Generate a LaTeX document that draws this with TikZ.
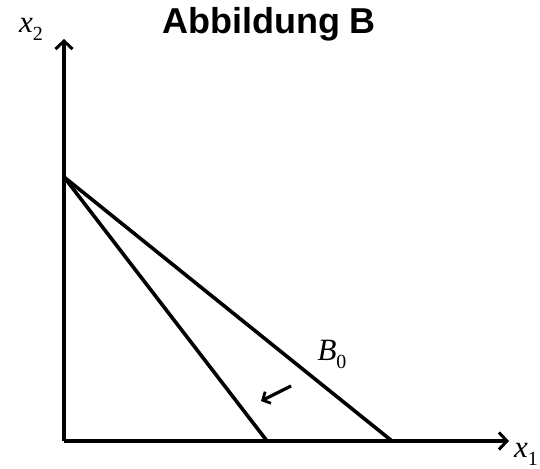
\documentclass[tikz,border=0pt]{standalone}
\usepackage{fontspec}
\setmainfont{Liberation Serif}
\setsansfont{Liberation Sans}
\usetikzlibrary{arrows.meta}
\begin{document}
\begin{tikzpicture}[x=1pt,y=-1pt,
  axis/.style={line width=3.8pt,-{Straight Barb[length=8pt,width=17pt,line width=3pt]}},
  budget/.style={line width=3.6pt},
  lbl/.style={inner sep=0pt,font=\fontsize{31}{33}\selectfont\itshape}]
\useasboundingbox (0,0) rectangle (540,468);
\coordinate (O) at (64,441);
\coordinate (Ytop) at (64,39);
\coordinate (Xend) at (509,441);
\coordinate (A) at (64,177);
\coordinate (C1) at (267,441);
\coordinate (C0) at (392,441);
\coordinate (S) at (291,386);
\coordinate (E) at (261,401);
\draw[axis] (O) -- (Ytop);
\draw[axis] (O) -- (Xend);
\draw[budget] (A) -- (C0);
\draw[budget] (A) -- (C1);
\draw[line width=3.3pt,-{Straight Barb[length=6pt,width=13pt,line width=2.8pt]}] (S) -- (E);
\node[font=\sffamily\bfseries\fontsize{36}{38}\selectfont] (title) at (269,24) {Abbildung B};
\node[lbl] (x2) at (31,29) {x\raisebox{-8pt}{\upshape\fontsize{20}{20}\selectfont 2}};
\node[lbl] (x1) at (526,454) {x\raisebox{-8pt}{\upshape\fontsize{20}{20}\selectfont 1}};
\node[lbl] (b0) at (332,354) {B\raisebox{-8pt}{\upshape\fontsize{20}{20}\selectfont 0}};
\end{tikzpicture}
\end{document}
